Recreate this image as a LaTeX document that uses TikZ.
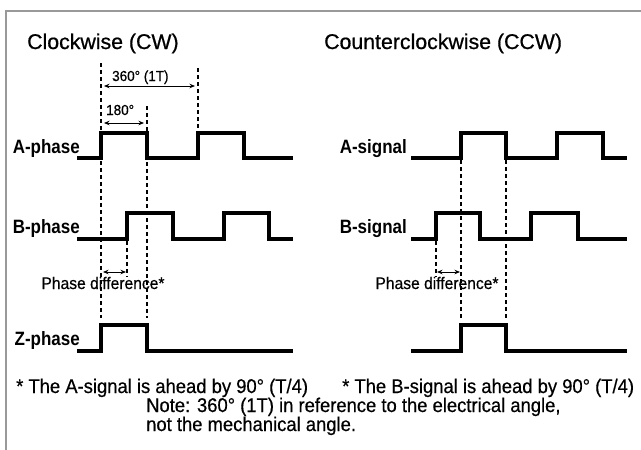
\documentclass[tikz,border=0pt]{standalone}
\usepackage{fontspec}
\setmainfont{Liberation Sans}
\newfontfamily\condfont[FakeStretch=0.88]{Liberation Sans}
\newfontfamily\notefont[FakeStretch=0.93,FakeBold=0.5]{Liberation Sans}
\newfontfamily\titlefont[FakeBold=0.7]{Liberation Sans}
\usetikzlibrary{arrows.meta}
\begin{document}
\begin{tikzpicture}[x=1pt,y=-1pt,
  wave/.style={line width=3.6pt, line join=miter, line cap=butt},
  guide/.style={line width=1.1pt, dash pattern=on 4pt off 3pt, black},
  dim/.style={line width=0.9pt, {Stealth[length=5.5pt,width=4.5pt]}-{Stealth[length=5.5pt,width=4.5pt]}},
  frame/.style={line width=1.4pt, gray!80},
  lbl/.style={font=\condfont\fontsize{19.3}{19.3}\selectfont\bfseries, inner sep=0pt, anchor=base east},
  ttl/.style={font=\titlefont\fontsize{21.3}{21.3}\selectfont, inner sep=0pt, anchor=base west},
  sm/.style={font=\notefont\fontsize{14.5}{14.5}\selectfont, inner sep=0pt, anchor=base west},
  pd/.style={font=\notefont\fontsize{16.8}{16.8}\selectfont, inner sep=0pt, anchor=base},
  note/.style={font=\notefont\fontsize{19.8}{19.8}\selectfont, inner sep=0pt, anchor=base west}]
\useasboundingbox (0,0) rectangle (641,450);
% frame
\draw[frame] (6,450) -- (6,11) -- (641,11);
% titles
\node[ttl] (tcw) at (27,49) {Clockwise (CW)};
\node[ttl] (tccw) at (324,49) {Counterclockwise (CCW)};
% guide coordinates
\coordinate (g1t) at (101,63);   \coordinate (g1b) at (101,318);
\coordinate (g2t) at (147,106);  \coordinate (g2b) at (147,318);
\coordinate (g3t) at (198,68);   \coordinate (g3b) at (198,130);
\coordinate (g4t) at (127,241);  \coordinate (g4b) at (127,277);
\coordinate (h1t) at (461,160);  \coordinate (h1b) at (461,318);
\coordinate (h2t) at (506,160);  \coordinate (h2b) at (506,318);
\coordinate (h4t) at (436,241);  \coordinate (h4b) at (436,277);
\draw[guide] (g1t) -- (g1b);
\draw[guide] (g2t) -- (g2b);
\draw[guide] (g3t) -- (g3b);
\draw[guide] (g4t) -- (g4b);
\draw[guide] (h1t) -- (h1b);
\draw[guide] (h2t) -- (h2b);
\draw[guide] (h4t) -- (h4b);
% dimension arrows
\coordinate (d1a) at (104,86);  \coordinate (d1b) at (195,86);
\coordinate (d2a) at (104,123); \coordinate (d2b) at (144,123);
\coordinate (d3a) at (103,272); \coordinate (d3b) at (126,272);
\coordinate (d4a) at (437,272); \coordinate (d4b) at (460,272);
\draw[dim] (d1a) -- (d1b);
\draw[dim] (d2a) -- (d2b);
\draw[dim] (d3a) -- (d3b);
\draw[dim] (d4a) -- (d4b);
\node[sm] (l360) at (112,81) {360° (1T)};
\node[sm] (l180) at (106,115) {180°};
\node[pd] (pdcw) at (103,289) {Phase difference*};
\node[pd] (pdccw) at (437,289) {Phase difference*};
% waveforms CW
\draw[wave] (77,158) -- (101,158) -- (101,133) -- (147,133) -- (147,158) -- (198,158) -- (198,133) -- (244,133) -- (244,158) -- (293,158);
\draw[wave] (77,239) -- (127,239) -- (127,213) -- (173,213) -- (173,239) -- (224,239) -- (224,213) -- (269,213) -- (269,239) -- (293,239);
\draw[wave] (77,351) -- (101,351) -- (101,325) -- (147,325) -- (147,351) -- (293,351);
% waveforms CCW
\draw[wave] (411,158) -- (461,158) -- (461,133) -- (506,133) -- (506,158) -- (557,158) -- (557,133) -- (603,133) -- (603,158) -- (627,158);
\draw[wave] (411,239) -- (436,239) -- (436,213) -- (480,213) -- (480,239) -- (531,239) -- (531,213) -- (578,213) -- (578,239) -- (627,239);
\draw[wave] (411,351) -- (461,351) -- (461,325) -- (506,325) -- (506,351) -- (627,351);
% labels
\node[lbl] (la) at (80,153) {A-phase};
\node[lbl] (lb) at (80,233) {B-phase};
\node[lbl] (lz) at (80,345) {Z-phase};
\node[lbl] (sa) at (407,153) {A-signal};
\node[lbl] (sb) at (407,233) {B-signal};
% notes
\node[note] (n1) at (16,393) {* The A-signal is ahead by 90° (T/4)};
\node[note] (n2) at (342,393) {* The B-signal is ahead by 90° (T/4)};
\node[note] (n3) at (146,412) {Note: 360° (1T) in reference to the electrical angle,};
\node[note] (n4) at (146,431) {not the mechanical angle.};
\end{tikzpicture}
\end{document}
